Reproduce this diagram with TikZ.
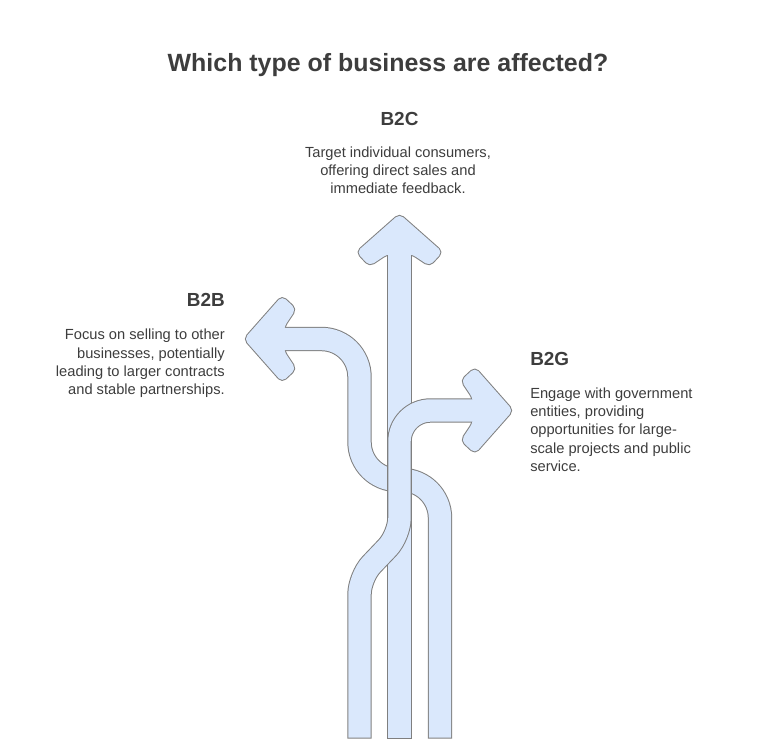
\documentclass[tikz,border=0pt]{standalone}
\usepackage{fontspec}
\setmainfont{Liberation Sans}
\usepackage{tikz}
\definecolor{tubeblue}{HTML}{DAE8FC}
\definecolor{tubeedge}{HTML}{7F7F7F}
\definecolor{inkgray}{HTML}{3D3D3D}
\tikzset{
  tubeline/.style={draw=tubeedge, line width=18.3pt},
  tubefill/.style={draw=tubeblue, line width=16.8pt},
  headline/.style={draw=tubeedge, line width=1.5pt, rounded corners=3.75pt},
  headfill/.style={fill=tubeblue, rounded corners=3.75pt},
  titletext/.style={font=\fontsize{18.7}{22}\selectfont\bfseries, color=inkgray, inner sep=0pt},
  headtext/.style={font=\fontsize{14.2}{16}\selectfont\bfseries, color=inkgray, inner sep=0pt},
  bodytext/.style={font=\fontsize{11}{13.7}\selectfont, color=inkgray, inner sep=0pt},
}
\begin{document}
\begin{tikzpicture}[x=0.75pt, y=-0.75pt]
\useasboundingbox (0,0) rectangle (768,753);

\coordinate (b2b-foot) at (440,738.7);
\coordinate (b2b-k1) at (440,480);
\coordinate (b2b-k2) at (359.5,480);
\coordinate (b2b-k3) at (359.5,339);
\coordinate (b2b-neck) at (274,339);
\coordinate (b2c-foot) at (399.5,738.7);
\coordinate (b2c-neck) at (399.5,244);
\coordinate (b2g-foot) at (359.5,738.7);
\coordinate (b2g-k1) at (359.5,577);
\coordinate (b2g-k2) at (399.5,535);
\coordinate (b2g-k3) at (399.5,410.5);
\coordinate (b2g-neck) at (483,410.5);

\draw[tubeline, rounded corners=28.5pt] (b2b-foot) -- (b2b-k1) -- (b2b-k2) -- (b2b-k3) -- (b2b-neck);
\draw[headline] (284,351) -- (296,369) -- (282,382) -- (244,339) -- (282,296) -- (296,309) -- (284,327) -- cycle;
\draw[tubefill, rounded corners=28.5pt] ([yshift=0.75pt]b2b-foot) -- (b2b-k1) -- (b2b-k2) -- (b2b-k3) -- (b2b-neck);
\fill[headfill] (284,351) -- (296,369) -- (282,382) -- (244,339) -- (282,296) -- (296,309) -- (284,327) -- cycle;

\draw[tubeline] (b2c-foot) -- (b2c-neck);
\draw[headline] (387.5,254) -- (369.5,266) -- (356.5,252) -- (399.5,214) -- (442.5,252) -- (429.5,266) -- (411.5,254) -- cycle;
\draw[tubefill] ([yshift=0.75pt]b2c-foot) -- (b2c-neck);
\fill[headfill] (387.5,254) -- (369.5,266) -- (356.5,252) -- (399.5,214) -- (442.5,252) -- (429.5,266) -- (411.5,254) -- cycle;

\draw[tubeline, rounded corners=13pt] (b2g-foot) -- (b2g-k1) -- (b2g-k2) [rounded corners=23.25pt] -- (b2g-k3) -- (b2g-neck);
\draw[headline] (473,398.5) -- (461,380.5) -- (475,367.5) -- (513,410.5) -- (475,453.5) -- (461,440.5) -- (473,422.5) -- cycle;
\draw[tubefill, rounded corners=13pt] ([yshift=0.75pt]b2g-foot) -- (b2g-k1) -- (b2g-k2) [rounded corners=23.25pt] -- (b2g-k3) -- (b2g-neck);
\fill[headfill] (473,398.5) -- (461,380.5) -- (475,367.5) -- (513,410.5) -- (475,453.5) -- (461,440.5) -- (473,422.5) -- cycle;

\draw (388,71.7) node (title) [titletext, anchor=base] {Which type of business are affected?};

\draw (399.5,125) node (b2c) [headtext, anchor=base] {B2C};
\draw (398,146.5) node (b2c-text) [bodytext, anchor=north, align=center] {Target individual consumers,\\offering direct sales and\\immediate feedback.};

\draw (225,306.7) node (b2b) [headtext, anchor=base east] {B2B};
\draw (225,329) node (b2b-text) [bodytext, anchor=north east, align=right] {Focus on selling to other\\businesses, potentially\\leading to larger contracts\\and stable partnerships.};

\draw (530,365) node (b2g) [headtext, anchor=base west] {B2G};
\draw (530,387.5) node (b2g-text) [bodytext, anchor=north west, align=left] {Engage with government\\entities, providing\\opportunities for large-\\scale projects and public\\service.};
\end{tikzpicture}
\end{document}
